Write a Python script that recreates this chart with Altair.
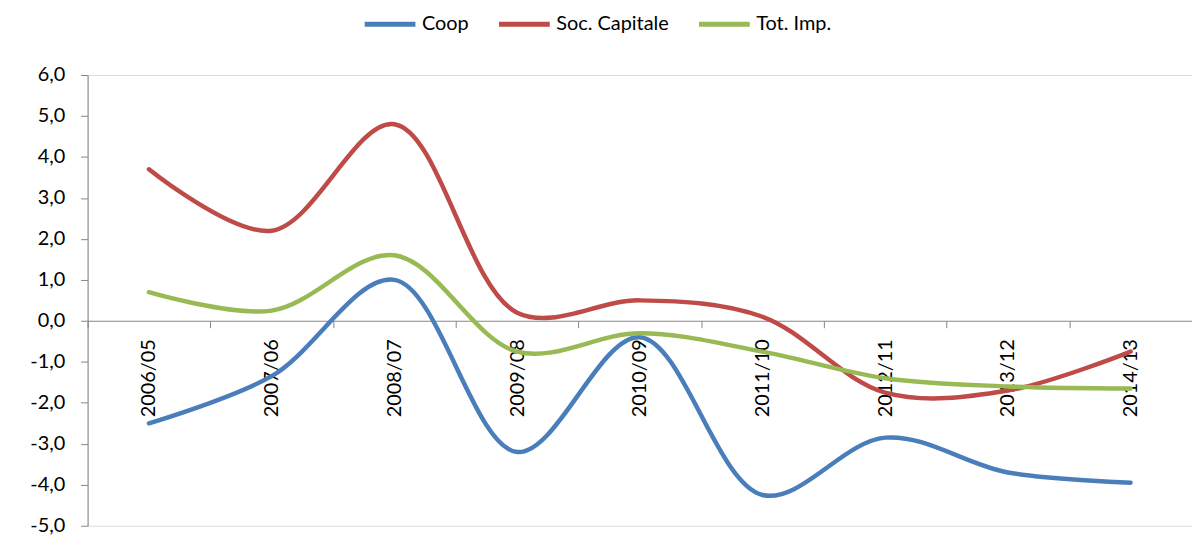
import altair as alt
import pandas as pd

years = ["2006/05", "2007/06", "2008/07", "2009/08", "2010/09",
         "2011/10", "2012/11", "2013/12", "2014/13"]
coop = [-2.5, -1.35, 1.0, -3.2, -0.4, -4.25, -2.85, -3.7, -3.95]
soc_capitale = [3.7, 2.2, 4.8, 0.2, 0.5, 0.1, -1.75, -1.7, -0.75]
tot_imp = [0.7, 0.25, 1.6, -0.75, -0.3, -0.75, -1.4, -1.6, -1.65]

series_names = ["Coop", "Soc. Capitale", "Tot. Imp."]
series_colors = ["#4A7EBB", "#BE4B48", "#98B954"]

rows = []
for name, vals in zip(series_names, [coop, soc_capitale, tot_imp]):
    for yr, v in zip(years, vals):
        rows.append({"anno": yr, "serie": name, "valore": v})
df = pd.DataFrame(rows)

FONT = "Lato"

line = alt.Chart(df).mark_line(
    strokeWidth=4.5, interpolate="catmull-rom", strokeCap="round"
).encode(
    x=alt.X("anno:N", sort=years, title=None,
            scale=alt.Scale(type="band", paddingInner=0, paddingOuter=0),
            axis=alt.Axis(offset=-206, labelAngle=-90, tickBand="extent",
                          domainColor="#868686", tickColor="#868686",
                          tickSize=7, labelFontSize=20, labelFont=FONT,
                          labelColor="#000000", labelPadding=11, grid=False,
                          labelOverlap=False)),
    y=alt.Y("valore:Q", title=None,
            scale=alt.Scale(domain=[-5, 6], nice=False, zero=False),
            axis=alt.Axis(values=list(range(-5, 7)), tickSize=7,
                          domainColor="#868686", tickColor="#868686",
                          labelFontSize=20, labelFont=FONT, labelColor="#000000",
                          labelPadding=16, grid=False,
                          labelExpr="replace(replace(format(datum.value, '.1f'), '.', ','), '\u2212', '-')")),
    color=alt.Color("serie:N", sort=series_names,
                    scale=alt.Scale(domain=series_names, range=series_colors),
                    legend=alt.Legend(title=None, orient="none", direction="horizontal",
                                      legendX=276, legendY=-79,
                                      symbolType="stroke", symbolSize=2600,
                                      symbolStrokeWidth=5, labelFontSize=20,
                                      labelFont=FONT, labelColor="#000000",
                                      columnPadding=19, labelOffset=4)),
)

chart = line.properties(
    width=1110, height=453,
    autosize=alt.AutoSizeParams(type="none"),
    padding={"left": 80, "top": 66, "right": 0, "bottom": 12},
).configure_view(stroke=None).configure(background="white")

chart.save("out.html", embed_options={"renderer": "svg", "actions": False})
